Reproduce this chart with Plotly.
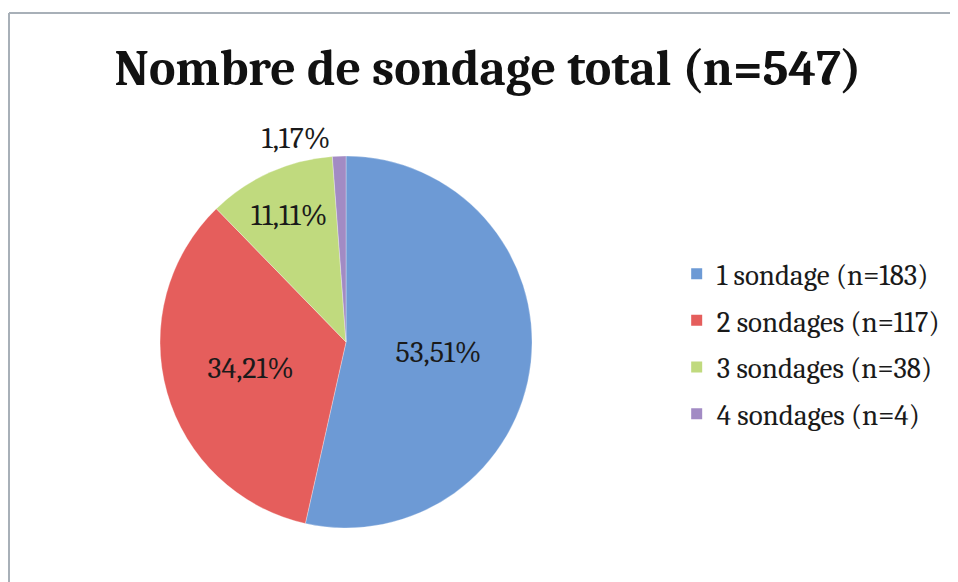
import plotly.graph_objects as go

# Données
categories = ["1 sondage (n=183)", "2 sondages (n=117)", "3 sondages (n=38)", "4 sondages (n=4)"]
counts = [183, 117, 38, 4]
colors = ["#6d9ad5", "#e55e5c", "#c0da7e", "#a28bc4"]
title = "Nombre de sondage total (n=547)"

SERIF = "Cambria, 'Liberation Serif', serif"

fig = go.Figure()
fig.add_trace(go.Pie(
    labels=categories, values=counts, sort=False, direction="clockwise", rotation=0,
    marker=dict(colors=colors, line=dict(color="rgba(255,255,255,0.6)", width=0.5)),
    texttemplate="%{percent:.2%}",
    textposition=["inside", "inside", "inside", "outside"],
    insidetextorientation="horizontal",
    textfont=dict(family=SERIF, size=30, color="#1a1a1a"),
    showlegend=False, hoverinfo="label+value+percent",
    domain=dict(x=[0.1587, 0.547], y=[0.1065, 0.7457]),
))

# entrées de légende (une par catégorie, pour l'espacement)
for i, (c, col) in enumerate(zip(categories, colors)):
    fig.add_trace(go.Scatter(
        x=[None], y=[None], mode="markers", name=c, legendgroup=str(i),
        marker=dict(symbol="square", size=11, color=col),
    ))

# cadre gris (bords gauche et haut seulement visibles)
frame = dict(type="line", xref="paper", yref="paper", line=dict(color="#a8b0b8", width=2))

fig.update_layout(
    width=958, height=582,
    paper_bgcolor="white", plot_bgcolor="white",
    separators=", ",
    uniformtext=dict(minsize=30, mode="show"),
    title=dict(text=f"<b>{title}</b>", x=0.501, xanchor="center", y=0.897, yanchor="middle",
               font=dict(family=SERIF, size=50, color="#111111")),
    margin=dict(l=0, r=0, t=0, b=0),
    xaxis=dict(visible=False), yaxis=dict(visible=False),
    legend=dict(x=0.698, y=0.423, xanchor="left", yanchor="middle",
                font=dict(family=SERIF, size=29, color="#1a1a1a"),
                tracegroupgap=6, itemwidth=30, bgcolor="rgba(0,0,0,0)"),
    shapes=[
        dict(frame, x0=1 / 958, x1=1 / 958, y0=0, y1=1 - 5 / 582),
        dict(frame, x0=1 / 958, x1=1, y0=1 - 5 / 582, y1=1 - 5 / 582),
    ],
)

fig.write_html("out.html")
